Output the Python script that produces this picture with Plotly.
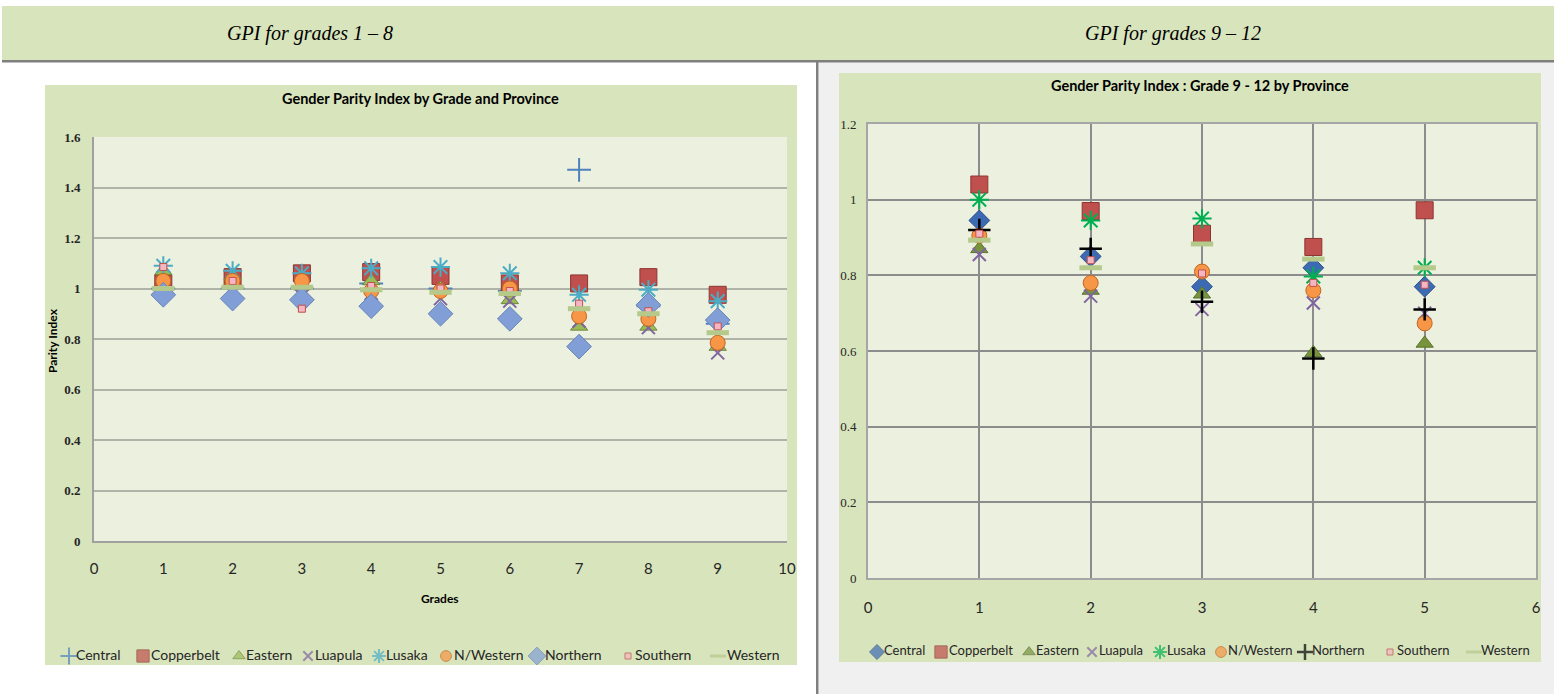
import plotly.graph_objects as go

W, H = 1554, 694

# ---------------- data ----------------
provinces = ["Central", "Copperbelt", "Eastern", "Luapula", "Lusaka",
             "N/Western", "Northern", "Southern", "Western"]

grades_1_8 = [1, 2, 3, 4, 5, 6, 7, 8, 9]
central_l    = [1.00, 1.00, 1.00, 1.02, 1.00, 0.99, 1.47, 0.93, 0.86]
copperbelt_l = [1.02, 1.045, 1.06, 1.065, 1.05, 1.02, 1.02, 1.045, 0.975]
eastern_l    = [1.07, 1.05, 1.01, 1.03, 1.00, 0.955, 0.85, 0.85, 0.77]
luapula_l    = [0.98, 0.98, 0.97, 0.98, 0.96, 0.95, 0.87, 0.845, 0.745]
lusaka_l     = [1.09, 1.07, 1.06, 1.08, 1.085, 1.06, 0.975, 0.995, 0.95]
nwestern_l   = [1.03, 1.03, 1.03, 0.99, 0.99, 1.00, 0.89, 0.88, 0.785]
northern_l   = [0.975, 0.96, 0.955, 0.93, 0.90, 0.88, 0.77, 0.935, 0.875]
southern_l   = [1.085, 1.03, 0.92, 1.01, 1.00, 0.99, 0.94, 0.91, 0.85]
western_l    = [1.00, 1.005, 1.005, 0.995, 0.985, 0.98, 0.92, 0.90, 0.825]

grades_9_12 = [1, 2, 3, 4, 5]
central_r    = [0.945, 0.85, 0.77, 0.82, 0.77]
copperbelt_r = [1.04, 0.97, 0.91, 0.875, 0.972]
eastern_r    = [0.87, 0.76, 0.75, 0.595, 0.62]
luapula_r    = [0.855, 0.745, 0.71, 0.727, 0.70]
lusaka_r     = [1.00, 0.945, 0.95, 0.797, 0.82]
nwestern_r   = [0.905, 0.78, 0.81, 0.76, 0.673]
northern_r   = [0.92, 0.87, 0.73, 0.58, 0.71]
southern_r   = [0.91, 0.84, 0.805, 0.78, 0.775]
western_r    = [0.893, 0.82, 0.883, 0.843, 0.82]

left_values = [central_l, copperbelt_l, eastern_l, luapula_l, lusaka_l,
               nwestern_l, northern_l, southern_l, western_l]
right_values = [central_r, copperbelt_r, eastern_r, luapula_r, lusaka_r,
                nwestern_r, northern_r, southern_r, western_r]

left_ticks_x = [0, 1, 2, 3, 4, 5, 6, 7, 8, 9, 10]
left_ticks_y = [0, 0.2, 0.4, 0.6, 0.8, 1, 1.2, 1.4, 1.6]
right_ticks_x = [0, 1, 2, 3, 4, 5, 6]
right_ticks_y = [0, 0.2, 0.4, 0.6, 0.8, 1, 1.2]

header_left = "GPI for grades 1 – 8"
header_right = "GPI for grades 9 – 12"
title_left = "Gender Parity Index by Grade and Province"
title_right = "Gender Parity Index : Grade 9 - 12 by Province"
xtitle_left = "Grades"
ytitle_left = "Parity Index"

# ---------------- styles ----------------
SANS = "Lato, Liberation Sans, sans-serif"
SERIF = "Liberation Serif, Times New Roman, serif"

# symbol, size, fill colour, outline colour, outline width
style_left = [
    ("cross-thin-open", 17, "#4f81bd", "#4f81bd", 2),
    ("square", 17, "#c0504d", "#8c3533", 1),
    ("triangle-up", 15, "#9bbb59", "#6f8a3a", 1),
    ("x-thin-open", 13, "#8064a2", "#8064a2", 2),
    ("asterisk-open", 16, "#4bacc6", "#4bacc6", 2),
    ("circle", 15, "#f79646", "#c0651f", 1),
    ("diamond", 19, "#819fd6", "#6884b8", 1),
    ("square", 7, "#f4b6c2", "#c0504d", 1),
    ("line-ew-open", 16, "#b5c98a", "#b5c98a", 5),
]
style_right = [
    ("diamond", 16, "#3d6bb3", "#2a4f8a", 1),
    ("square", 17, "#c0504d", "#8c3533", 1),
    ("triangle-up", 15, "#77933c", "#5b7230", 1),
    ("x-thin-open", 13, "#8064a2", "#8064a2", 2),
    ("asterisk-open", 16, "#00b050", "#00b050", 2),
    ("circle", 15, "#f79646", "#c0651f", 1),
    ("cross-thin-open", 16, "#000000", "#000000", 2.5),
    ("square", 7, "#f4b6c2", "#c0504d", 1),
    ("line-ew-open", 16, "#b5c98a", "#b5c98a", 5),
]


def mk(st, scale=1.0):
    sym, size, fill, line, lw = st
    return dict(symbol=sym, size=size * scale, color=fill, line=dict(color=line, width=lw))


fig = go.Figure()
for name, vals, st in zip(provinces, left_values, style_left):
    fig.add_trace(go.Scatter(x=grades_1_8, y=vals, mode="markers", name=name,
                             marker=mk(st), xaxis="x", yaxis="y",
                             showlegend=False, cliponaxis=False))
for name, vals, st in zip(provinces, right_values, style_right):
    fig.add_trace(go.Scatter(x=grades_9_12, y=vals, mode="markers", name=name,
                             marker=mk(st), xaxis="x2", yaxis="y2",
                             showlegend=False, cliponaxis=False))

# ---------------- compact legends (drawn on a pixel-space overlay axis) ----------------
legend_left_sym_x = [69, 143, 239, 308, 379, 446, 537, 628, 718]
legend_left_txt_x = [76, 151, 246, 315, 386, 454, 545, 635, 727]
legend_left_y = 656
legend_right_sym_x = [877, 941, 1029, 1092, 1160, 1221, 1305, 1390, 1474]
legend_right_txt_x = [884, 949, 1036, 1099, 1167, 1228, 1312, 1397, 1481]
legend_right_y = 652
LEG_SCALE = 0.72

for sym_x, txt_x, ly, styles, fsize in [
        (legend_left_sym_x, legend_left_txt_x, legend_left_y, style_left, 14),
        (legend_right_sym_x, legend_right_txt_x, legend_right_y, style_right, 13)]:
    fig.add_trace(go.Scatter(
        x=sym_x, y=[ly] * len(sym_x), mode="markers", xaxis="x3", yaxis="y3",
        showlegend=False, hoverinfo="skip", cliponaxis=False,
        marker=dict(symbol=[s[0] for s in styles],
                    size=[max(s[1] * LEG_SCALE, 6) for s in styles],
                    color=[s[2] for s in styles],
                    line=dict(color=[s[3] for s in styles],
                              width=[min(s[4], 3) for s in styles]))))
    fig.add_trace(go.Scatter(
        x=txt_x, y=[ly] * len(txt_x), mode="text", text=provinces,
        textposition="middle right", xaxis="x3", yaxis="y3",
        showlegend=False, hoverinfo="skip", cliponaxis=False,
        textfont=dict(family=SANS, size=fsize, color="#262626")))


def px(x):
    return x / W


def py(y):
    return 1 - y / H


# plot areas (pixels)
L = dict(x0=94, x1=787, y0=137, y1=541)
R = dict(x0=868, x1=1536, y0=124, y1=578)

shapes = []


def rect(x0, y0, x1, y1, fill):
    shapes.append(dict(type="rect", xref="paper", yref="paper",
                       x0=px(x0), x1=px(x1), y0=py(y1), y1=py(y0),
                       fillcolor=fill, line=dict(width=0), layer="below"))


GREEN = "#d8e4bc"
PLOT_BG = "#ebf0df"
rect(819, 62, 1554, 694, "#f0f0f0")
rect(2, 6, 1554, 60, GREEN)
rect(2, 60, 1554, 62.5, "#7f7f7f")
rect(816, 62, 818.5, 694, "#7f7f7f")
rect(45, 85, 797, 665, GREEN)
rect(839, 73, 1541, 662, GREEN)
rect(L["x0"], L["y0"], L["x1"], L["y1"], PLOT_BG)
rect(R["x0"], R["y0"], R["x1"], R["y1"], PLOT_BG)


def label(text, x, y, font, angle=0):
    return dict(text=text, x=px(x), y=py(y), xref="paper", yref="paper",
                xanchor="center", yanchor="middle", textangle=angle,
                showarrow=False, font=font)


fig.update_layout(
    width=W, height=H,
    margin=dict(l=0, r=0, t=0, b=0, autoexpand=False),
    paper_bgcolor="white",
    plot_bgcolor="rgba(0,0,0,0)",
    shapes=shapes,
    showlegend=False,
    xaxis=dict(domain=[px(L["x0"]), px(L["x1"])], range=[0, 10],
               tickvals=left_ticks_x, showgrid=False, zeroline=False,
               showline=True, linecolor="#a0a0a0", linewidth=2,
               ticks="", ticklabelstandoff=13, fixedrange=True,
               tickfont=dict(family=SANS, size=15, color="#262626"),
               anchor="y"),
    yaxis=dict(domain=[py(L["y1"]), py(L["y0"])], range=[0, 1.6],
               tickvals=left_ticks_y, ticktext=[f"{v:g}" for v in left_ticks_y],
               showgrid=True, gridcolor="#b0b3a8", gridwidth=2, zeroline=False,
               showline=True, linecolor="#a0a0a0", linewidth=2,
               ticks="", ticklabelstandoff=9, fixedrange=True,
               tickfont=dict(family=SERIF, size=13, color="#262626", weight="bold"),
               anchor="x"),
    xaxis2=dict(domain=[px(R["x0"]), px(R["x1"])], range=[0, 6],
                tickvals=right_ticks_x, showgrid=True, gridcolor="#8c8c8c",
                gridwidth=1.5, zeroline=False,
                showline=True, mirror=True, linecolor="#a6a6a6", linewidth=2,
                ticks="", ticklabelstandoff=15, fixedrange=True,
                tickfont=dict(family=SANS, size=15, color="#262626"),
                anchor="y2"),
    yaxis2=dict(domain=[py(R["y1"]), py(R["y0"])], range=[0, 1.2],
                tickvals=right_ticks_y, ticktext=[f"{v:g}" for v in right_ticks_y],
                showgrid=True, gridcolor="#8c8c8c", gridwidth=1.5, zeroline=False,
                showline=True, mirror=True, linecolor="#a6a6a6", linewidth=2,
                ticks="", ticklabelstandoff=7, fixedrange=True,
                tickfont=dict(family=SERIF, size=13, color="#262626"),
                anchor="x2"),
    xaxis3=dict(domain=[0, 1], range=[0, W], visible=False, fixedrange=True, anchor="y3"),
    yaxis3=dict(domain=[0, 1], range=[H, 0], visible=False, fixedrange=True, anchor="x3"),
    annotations=[
        label(header_left, 310, 33,
              dict(family=SERIF, size=20, color="#000000", style="italic")),
        label(header_right, 1173, 33,
              dict(family=SERIF, size=20, color="#000000", style="italic")),
        label(title_left, 420, 98,
              dict(family=SANS, size=14.5, color="#000000", weight="bold")),
        label(title_right, 1200, 86,
              dict(family=SANS, size=14.5, color="#000000", weight="bold")),
        label(xtitle_left, 440, 598,
              dict(family=SANS, size=12, color="#000000", weight="bold")),
        label(ytitle_left, 53, 340,
              dict(family=SANS, size=12, color="#000000", weight="bold"), angle=-90),
    ],
)

fig.write_html("out.html", config={"displayModeBar": False},
               post_script="document.body.style.margin='0px';document.body.style.overflow='hidden';")
